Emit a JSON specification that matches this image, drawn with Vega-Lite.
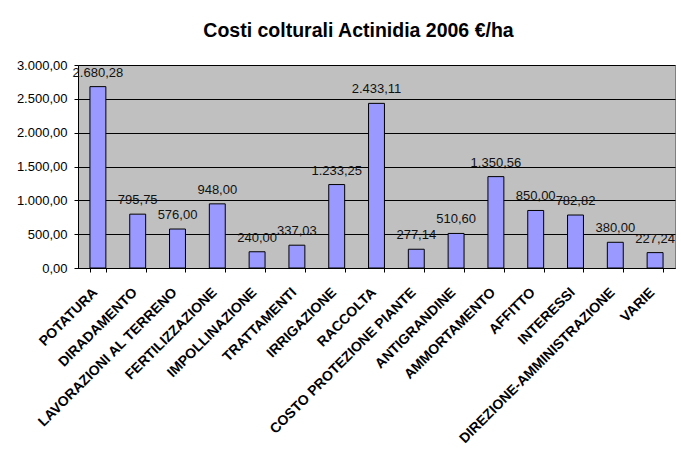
{
  "$schema": "https://vega.github.io/schema/vega-lite/v6.json",
  "autosize": {"type": "none"},
  "width": 597,
  "height": 203,
  "padding": {"left": 78, "top": 65, "right": 6, "bottom": 187},
  "background": "white",
  "config": {
    "locale": {"number": {"decimal": ",", "thousands": ".", "grouping": [3], "currency": ["", " €"]}},
    "font": "Liberation Sans",
    "view": {"fill": "#C0C0C0", "stroke": "#808080", "strokeWidth": 1}
  },
  "title": {
    "text": "Costi colturali Actinidia 2006 €/ha",
    "fontSize": 19.5,
    "fontWeight": "bold",
    "font": "Liberation Sans",
    "color": "black",
    "anchor": "middle",
    "dx": -18,
    "offset": 18
  },
  "data": {
    "values": [
      {"voce": "POTATURA", "costo": 2680.28},
      {"voce": "DIRADAMENTO", "costo": 795.75},
      {"voce": "LAVORAZIONI AL TERRENO", "costo": 576.00},
      {"voce": "FERTILIZZAZIONE", "costo": 948.00},
      {"voce": "IMPOLLINAZIONE", "costo": 240.00},
      {"voce": "TRATTAMENTI", "costo": 337.03},
      {"voce": "IRRIGAZIONE", "costo": 1233.25},
      {"voce": "RACCOLTA", "costo": 2433.11},
      {"voce": "COSTO PROTEZIONE PIANTE", "costo": 277.14},
      {"voce": "ANTIGRANDINE", "costo": 510.60},
      {"voce": "AMMORTAMENTO", "costo": 1350.56},
      {"voce": "AFFITTO", "costo": 850.00},
      {"voce": "INTERESSI", "costo": 782.82},
      {"voce": "DIREZIONE-AMMINISTRAZIONE", "costo": 380.00},
      {"voce": "VARIE", "costo": 227.24}
    ]
  },
  "encoding": {
    "x": {
      "field": "voce",
      "type": "nominal",
      "sort": null,
      "scale": {"paddingInner": 0.6, "paddingOuter": 0.3},
      "axis": {
        "title": null,
        "labelAngle": -45,
        "labelAlign": "right",
        "labelBaseline": "middle",
        "labelFont": "Liberation Sans",
        "labelFontWeight": "bold",
        "labelFontSize": 14,
        "labelColor": "black",
        "labelPadding": 18,
        "labelOffset": -3,
        "labelLimit": 400,
        "tickBand": "extent",
        "tickColor": "black",
        "tickSize": 4,
        "domainColor": "black",
        "grid": false
      }
    },
    "y": {
      "field": "costo",
      "type": "quantitative",
      "scale": {"domain": [0, 3000], "nice": false},
      "axis": {
        "title": null,
        "values": [0, 500, 1000, 1500, 2000, 2500, 3000],
        "format": ",.2f",
        "labelFont": "Liberation Sans",
        "labelFontSize": 13,
        "labelColor": "black",
        "labelPadding": 7,
        "tickColor": "black",
        "tickSize": 4,
        "domainColor": "black",
        "grid": true,
        "gridColor": "#000000",
        "gridWidth": 1
      }
    }
  },
  "layer": [
    {
      "mark": {"type": "bar", "fill": "#9999FF", "stroke": "black", "strokeWidth": 1}
    },
    {
      "mark": {"type": "text", "baseline": "bottom", "dy": -7, "fontSize": 13, "font": "Liberation Sans", "color": "#111111"},
      "encoding": {
        "text": {"field": "costo", "type": "quantitative", "format": ",.2f"}
      }
    }
  ]
}
